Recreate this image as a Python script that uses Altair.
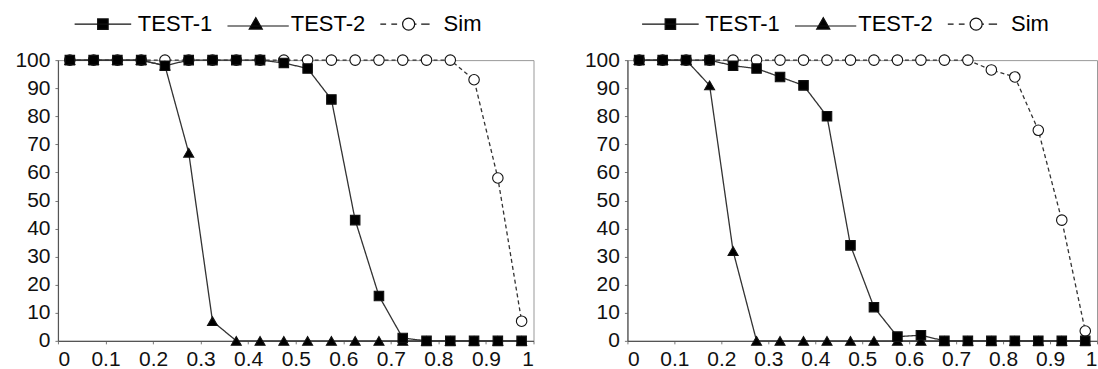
import altair as alt
import pandas as pd

# ---- data ----
x_vals = [0.025, 0.075, 0.125, 0.175, 0.225, 0.275, 0.325, 0.375, 0.425, 0.475,
          0.525, 0.575, 0.625, 0.675, 0.725, 0.775, 0.825, 0.875, 0.925, 0.975]

series_names = ["TEST-1", "TEST-2", "Sim"]

left_test1 = [100, 100, 100, 100, 98, 100, 100, 100, 100, 99,
              97, 86, 43, 16, 1, 0, 0, 0, 0, 0]
left_test2 = [100, 100, 100, 100, 98, 67, 7, 0, 0, 0,
              0, 0, 0, 0, 0, 0, 0, 0, 0, 0]
left_sim = [100, 100, 100, 100, 100, 100, 100, 100, 100, 100,
            100, 100, 100, 100, 100, 100, 100, 93, 58, 7]

right_test1 = [100, 100, 100, 100, 98, 97, 94, 91, 80, 34,
               12, 1.5, 2, 0, 0, 0, 0, 0, 0, 0]
right_test2 = [100, 100, 100, 91, 32, 0, 0, 0, 0, 0,
               0, 0, 0, 0, 0, 0, 0, 0, 0, 0]
right_sim = [100, 100, 100, 100, 100, 100, 100, 100, 100, 100,
             100, 100, 100, 100, 100, 96.5, 94, 75, 43, 3.5]

x_ticks = [0, 0.1, 0.2, 0.3, 0.4, 0.5, 0.6, 0.7, 0.8, 0.9, 1]
y_ticks = [0, 10, 20, 30, 40, 50, 60, 70, 80, 90, 100]

# ---- styles ----
FONT = "Liberation Sans"
LINE_COLOR = "#333333"

point_shapes = ["square", "triangle-up", "circle"]
point_fills = ["black", "black", "white"]
point_strokes = ["#111111", "#111111", "#111111"]
point_sizes = [90, 110, 90]
dashes = [[1, 0], [1, 0], [4, 3]]

# legend glyphs: line + marker drawn as one symbol path
legend_paths = [
    "M-5.4,0H5.4M-1,-1H1V1H-1Z",
    "M-5.4,0.35H6.3M0,-1.25L1.25,0.95L-1.25,0.95Z",
    "M-5.4,0H-4.3M-3.3,0H-2.2M1.15,0H1.5M2.4,0H4.0M1.15,0A1.15,1.15,0,1,1,-1.15,0A1.15,1.15,0,1,1,1.15,0Z",
]


def make_df(t1, t2, sim):
    rows = []
    # draw order: Sim underneath, then TEST-2, TEST-1 on top
    for name, vals in [("Sim", sim), ("TEST-2", t2), ("TEST-1", t1)]:
        for xv, yv in zip(x_vals, vals):
            rows.append({"x": xv, "value": yv, "series": name})
    return pd.DataFrame(rows)


def panel(t1, t2, sim, width, height, legend_x):
    df = make_df(t1, t2, sim)
    xenc = alt.X("x:Q", scale=alt.Scale(domain=[0, 1], nice=False, zero=False),
                 axis=alt.Axis(values=x_ticks, format="~g", title=None, labelPadding=5))
    yenc = alt.Y("value:Q", scale=alt.Scale(domain=[0, 100], nice=False),
                 axis=alt.Axis(values=y_ticks, title=None, labelPadding=5))
    base = alt.Chart(df).encode(x=xenc, y=yenc)

    lines = base.mark_line(color=LINE_COLOR, strokeWidth=1.3).encode(
        detail="series:N",
        strokeDash=alt.StrokeDash("series:N",
                                  scale=alt.Scale(domain=series_names, range=dashes),
                                  legend=None),
    )

    points = base.mark_point(opacity=1, stroke="#111111", strokeWidth=1.1).encode(
        shape=alt.Shape("series:N",
                        scale=alt.Scale(domain=series_names, range=point_shapes),
                        legend=None),
        fill=alt.Fill("series:N",
                      scale=alt.Scale(domain=series_names, range=point_fills),
                      legend=None),
        size=alt.Size("series:N",
                      scale=alt.Scale(domain=series_names, range=point_sizes),
                      legend=None),
    )

    leg = dict(
        orient="none", legendX=legend_x, legendY=-47, direction="horizontal", title=None,
        labelFont=FONT, labelFontSize=22, labelColor="black",
        symbolSize=110, symbolStrokeWidth=1.2,
        labelOffset=24, columnPadding=12, padding=0, symbolOpacity=1,
    )
    legend_layer = base.transform_filter("false").mark_point(
        opacity=1, size=110, strokeWidth=1.2
    ).encode(
        shape=alt.Shape("series:N",
                        scale=alt.Scale(domain=series_names, range=legend_paths),
                        legend=alt.Legend(**leg)),
        fill=alt.Fill("series:N",
                      scale=alt.Scale(domain=series_names, range=point_fills),
                      legend=alt.Legend(**leg)),
        stroke=alt.Stroke("series:N",
                          scale=alt.Scale(domain=series_names, range=point_strokes),
                          legend=alt.Legend(**leg)),
    )

    return alt.layer(lines, points, legend_layer).resolve_scale(
        shape="independent", fill="independent", stroke="independent"
    ).properties(width=width, height=height)


left = panel(left_test1, left_test2, left_sim, 476, 281, 34)
right = panel(right_test1, right_test2, right_sim, 470, 281, 32)

chart = alt.hconcat(left, right, spacing=94, bounds="flush").properties(
    background="white",
    padding={"left": 14, "top": 12, "right": 0, "bottom": 0},
).configure_view(
    stroke="#999999", strokeWidth=1
).configure_axis(
    grid=False, labelFont=FONT, labelFontSize=21, labelColor="#111111",
    domainColor="#555555", domainWidth=1.2, tickColor="#777777", tickSize=3,
)

chart.save("out.html", embed_options={"renderer": "svg", "actions": False})
